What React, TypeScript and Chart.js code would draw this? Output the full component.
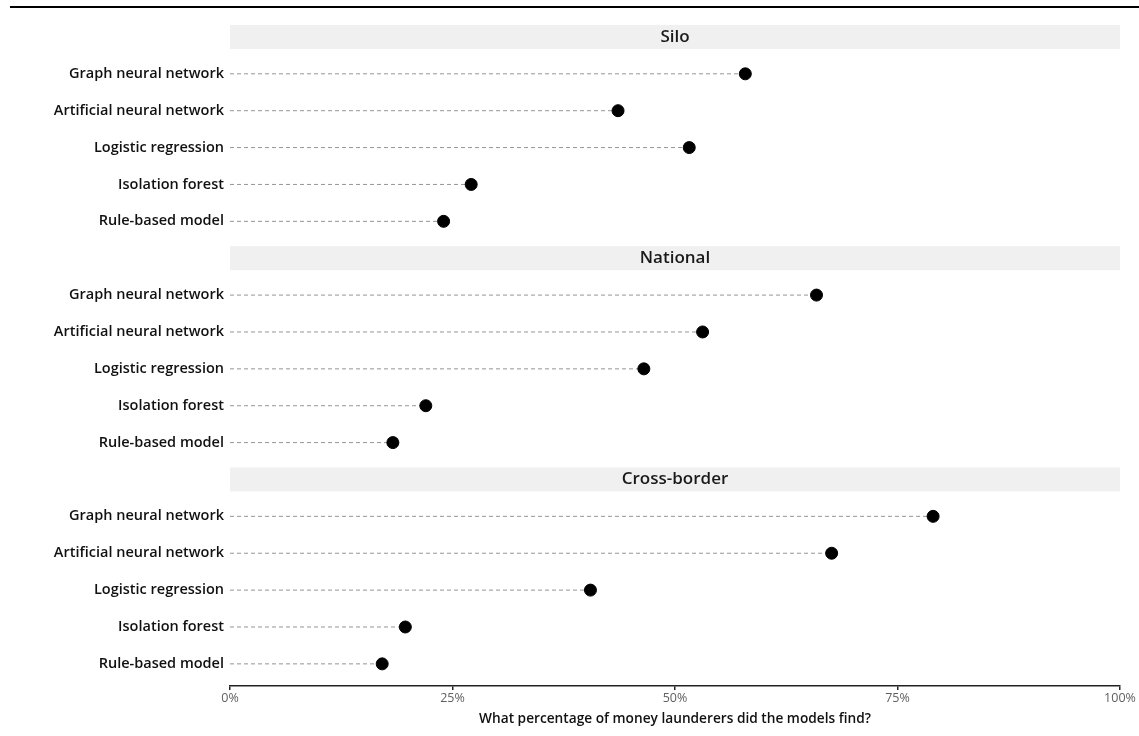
import React, { useEffect, useRef } from "react";
import { Chart, registerables } from "chart.js";

Chart.register(...registerables);

const facets = ["Silo", "National", "Cross-border"];
const models = [
  "Graph neural network",
  "Artificial neural network",
  "Logistic regression",
  "Isolation forest",
  "Rule-based model",
];
const siloValues = [57.9, 43.6, 51.6, 27.1, 24.0];
const nationalValues = [65.9, 53.1, 46.5, 22.0, 18.3];
const crossBorderValues = [79.0, 67.6, 40.5, 19.7, 17.1];
const xTicks = [0, 25, 50, 75, 100];
const xTitle = "What percentage of money launderers did the models find?";

const FONT = "'Open Sans', 'Noto Sans', sans-serif";

export default function App() {
  const ref = useRef<HTMLCanvasElement>(null);

  useEffect(() => {
    const canvas = ref.current;
    if (!canvas) return;
    const facetValues = [siloValues, nationalValues, crossBorderValues];

    const rowLabels: string[] = [];
    const stripRows: { row: number; label: string }[] = [];
    const points: { x: number; y: number }[] = [];
    const segs: { x: number; y: number | null }[] = [];
    facets.forEach((f, fi) => {
      stripRows.push({ row: rowLabels.length, label: f });
      rowLabels.push("");
      models.forEach((m, mi) => {
        const r = rowLabels.length;
        rowLabels.push(m);
        const v = facetValues[fi][mi];
        points.push({ x: v, y: r });
        segs.push({ x: 0, y: r });
        segs.push({ x: v, y: r });
        segs.push({ x: v, y: null });
      });
    });

    const stripPlugin = {
      id: "strips",
      beforeDatasetsDraw(chart: any) {
        const { ctx, chartArea, scales } = chart;
        const y = scales.y;
        ctx.save();
        stripRows.forEach((s) => {
          const cy = y.getPixelForValue(s.row);
          ctx.fillStyle = "#f0f0f0";
          ctx.fillRect(chartArea.left, cy - 12, chartArea.right - chartArea.left, 24);
          ctx.fillStyle = "#1a1a1a";
          ctx.font = `600 17px ${FONT}`;
          ctx.textAlign = "center";
          ctx.textBaseline = "middle";
          ctx.fillText(s.label, (chartArea.left + chartArea.right) / 2, cy);
        });
        ctx.restore();
      },
    };

    const chart = new Chart(canvas, {
      type: "scatter",
      data: {
        datasets: [
          {
            data: points,
            backgroundColor: "#000000",
            borderColor: "#000000",
            pointRadius: 6,
            pointHoverRadius: 6,
            order: 0,
          },
          {
            type: "line",
            data: segs as any,
            borderColor: "#959595",
            borderWidth: 1,
            borderDash: [4, 3],
            pointRadius: 0,
            spanGaps: false,
            fill: false,
            order: 1,
          } as any,
        ],
      },
      plugins: [stripPlugin],
      options: {
        responsive: false,
        animation: false,
        devicePixelRatio: 1,
        layout: { padding: { top: 18.5, right: 19, left: 0, bottom: 0 } },
        plugins: {
          legend: { display: false },
          tooltip: { enabled: false },
        },
        scales: {
          x: {
            type: "linear",
            min: 0,
            max: 100,
            afterBuildTicks: (scale: any) => {
              scale.ticks = xTicks.map((v) => ({ value: v }));
            },
            afterFit: (scale: any) => {
              scale.height = 50;
            },
            ticks: {
              callback: (v: any) => `${v}%`,
              color: "#606060",
              font: { family: FONT, size: 12.5 },
              padding: 1,
              maxRotation: 0,
            },
            grid: {
              drawOnChartArea: false,
              drawTicks: true,
              tickLength: 4,
              color: "#222222",
              lineWidth: 1.5,
            },
            border: { display: true, color: "#222222", width: 1.5 },
            title: {
              display: true,
              text: xTitle,
              color: "#111111",
              font: { family: FONT, size: 13.7, weight: "600" },
              padding: { top: 2, bottom: 9 },
            },
          },
          y: {
            type: "linear",
            reverse: true,
            min: -0.5,
            max: 17.6,
            afterBuildTicks: (scale: any) => {
              scale.ticks = rowLabels.map((_, i) => ({ value: i }));
            },
            afterFit: (scale: any) => {
              scale.width = 230;
            },
            ticks: {
              callback: (v: any) => rowLabels[v as number] ?? "",
              color: "#111111",
              font: { family: FONT, size: 14.5, weight: "600" },
              padding: 6,
              autoSkip: false,
            },
            grid: { display: false, drawTicks: false },
            border: { display: false },
          },
        },
      } as any,
    });

    return () => chart.destroy();
  }, []);

  return (
    <div style={{ position: "absolute", left: 0, top: 0, width: 1139, height: 736, background: "#fff" }}>
      <div style={{ position: "absolute", left: 10, top: 6, width: 1129, height: 2, background: "#000" }} />
      <canvas ref={ref} width={1139} height={736} style={{ position: "absolute", left: 0, top: 0 }} />
    </div>
  );
}
